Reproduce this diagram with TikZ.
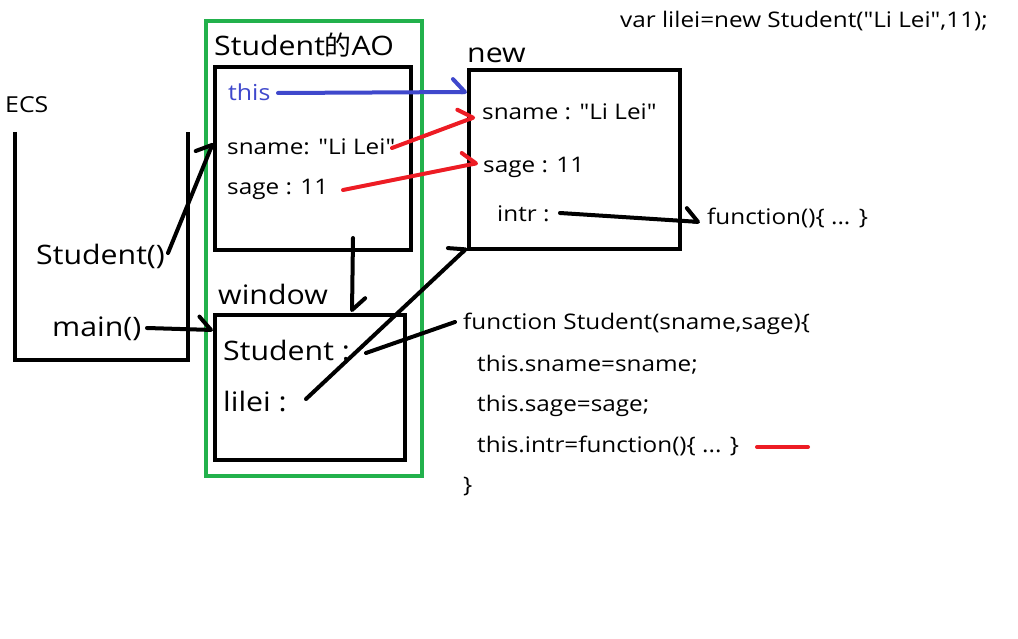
\documentclass[tikz,border=0pt]{standalone}
\usepackage{fontspec}
\newfontfamily\osans{Open Sans}[FakeStretch=1.13]
\newfontfamily\cjk{Noto Sans CJK SC}
\usetikzlibrary{arrows.meta}
\definecolor{aogreen}{RGB}{34,177,76}
\definecolor{thisblue}{RGB}{63,72,204}
\definecolor{linkred}{RGB}{237,28,36}
\newcommand{\fsz}[1]{\osans\fontsize{#1}{#1}\selectfont}
\begin{document}
\begin{tikzpicture}[x=1pt,y=-1pt,
  lbl/.style={anchor=base west, inner sep=0pt, font=\fsz{21.5}},
  big/.style={lbl, font=\fsz{26.8}},
  box/.style={draw, line width=4pt, inner sep=0pt},
  link/.style={line width=4pt, line cap=round, -{Straight Barb[left,length=12pt,width=26pt,round]}},
  plain/.style={line width=4pt, line cap=round}]
\useasboundingbox[fill=white] (0,0) rectangle (1018,639);

% green AO frame
\node[box, draw=aogreen, minimum width=216pt, minimum height=455pt] (green) at (314,248.5) {};
% boxes
\node[box, minimum width=196pt, minimum height=183pt] (ao) at (313,158.5) {};
\node[box, minimum width=190pt, minimum height=145pt] (win) at (310,387.5) {};
\node[box, minimum width=211pt, minimum height=179pt] (nbox) at (574.5,159.5) {};
% ECS stack
\draw[line width=4pt] (14.5,132) -- (14.5,360) -- (187.5,360) -- (187.5,132);

% texts
\node[lbl, font=\fsz{22}] (ecs) at (5,113) {ECS};
\node[big] (stu) at (36,265) {Student()};
\node[big] (main) at (52,337) {main()};
\node[big] (aolbl) at (214,56) {Student{\cjk 的}AO};
\node[lbl, font=\fsz{22}, text=thisblue] (this) at (228,101) {this};
\node[lbl] (sn1) at (227,155) {sname: "Li Lei"};
\node[lbl] (sa1) at (227,195) {sage : 11};
\node[big] (newlbl) at (467,63) {new};
\node[lbl] (sn2) at (482,120) {sname : "Li Lei"};
\node[lbl] (sa2) at (483,173) {sage : 11};
\node[lbl] (intr) at (497,222) {intr :};
\node[lbl] (fn) at (707,225) {function()\{ ... \}};
\node[big] (winlbl) at (218,305) {window};
\node[big] (wstu) at (223,360) {Student :};
\node[big] (wlil) at (223,411) {lilei :};
\node[lbl] (c1) at (463,330) {function Student(sname,sage)\{};
\node[lbl] (c2) at (477,371) {this.sname=sname;};
\node[lbl] (c3) at (477,411) {this.sage=sage;};
\node[lbl] (c4) at (477,452) {this.intr=function()\{ ... \}};
\node[lbl] (c5) at (463,492) {\}};
\node[lbl] (var) at (620,28) {var lilei=new Student("Li Lei",11);};

% connector end points
\coordinate (stuA) at (168,253);  \coordinate (stuB) at (213,143);
\coordinate (mainA) at (147,328); \coordinate (mainB) at (213,330);
\coordinate (thisA) at (278,93);  \coordinate (thisB) at (467,92);
\coordinate (snA) at (392,148);   \coordinate (snB) at (475,117);
\coordinate (saA) at (343,190);   \coordinate (saB) at (478,163);
\coordinate (inA) at (560,213);   \coordinate (inB) at (700,222);
\coordinate (aoA) at (353,238);   \coordinate (aoB) at (352,312);
\coordinate (liA) at (306,399);   \coordinate (liB) at (467,248);
\coordinate (wsA) at (366,353);   \coordinate (wsB) at (455,322);
\coordinate (rdA) at (757,447);   \coordinate (rdB) at (808,447);

% connectors
\draw[link] (stuA) -- (stuB);
\draw[link] (mainA) -- (mainB);
\draw[link, thisblue] (thisA) -- (thisB);
\draw[link, linkred] (snA) -- (snB);
\draw[link, linkred] (saA) -- (saB);
\draw[link] (inA) -- (inB);
\draw[link] (aoA) -- (aoB);
\draw[link] (liA) -- (liB);
\draw[plain] (wsA) -- (wsB);
\draw[plain, linkred] (rdA) -- (rdB);
\end{tikzpicture}
\end{document}
